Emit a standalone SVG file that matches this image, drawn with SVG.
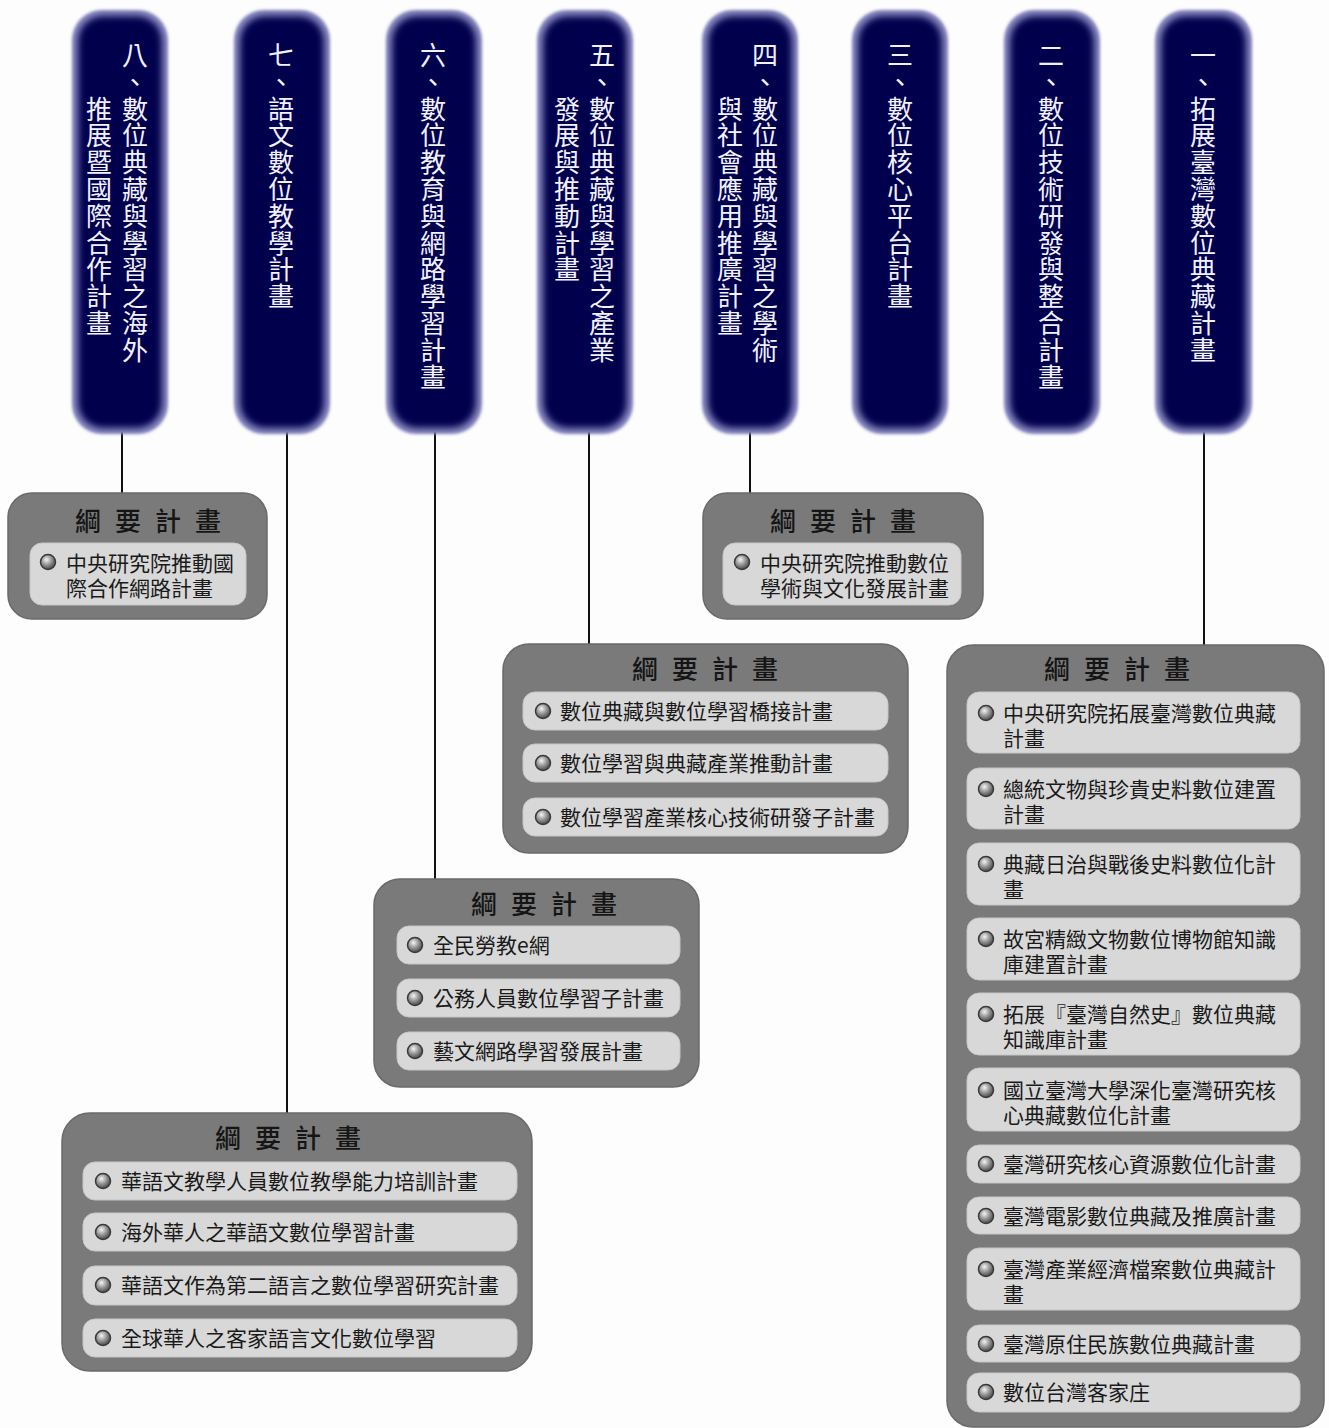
<svg xmlns="http://www.w3.org/2000/svg" width="1329" height="1428" viewBox="0 0 1329 1428">
<defs>
<style>
.po{fill:#8c8cc4;filter:url(#b2)}
.pi{fill:#02024e;filter:url(#b4)}
.pt{font-family:"Noto Sans CJK TC","Noto Sans CJK SC",sans-serif;font-size:26px;fill:#f2f2ff;text-anchor:middle;dominant-baseline:central}
.box{fill:#7a7a7a;stroke:#6a6a6a;stroke-width:1.5}
.item{fill:#d8d8d8;stroke:#c6c6c6;stroke-width:1}
.tt{font-family:"Noto Sans CJK TC","Noto Sans CJK SC",sans-serif;font-size:26px;font-weight:500;fill:#151515;text-anchor:middle;dominant-baseline:central}
.it{font-family:"Noto Sans CJK TC","Noto Sans CJK SC",sans-serif;font-size:21px;fill:#1a1a1a;dominant-baseline:central}
.bul{fill:url(#sph);stroke:#3a3a3a;stroke-width:1.5}
.conn{stroke:#111;stroke-width:2;fill:none}
</style>
<filter id="b2" x="-20%" y="-10%" width="140%" height="120%"><feGaussianBlur stdDeviation="1.5"/></filter>
<filter id="b4" x="-20%" y="-10%" width="140%" height="120%"><feGaussianBlur stdDeviation="3.5"/></filter>
<radialGradient id="sph" cx="40%" cy="35%" r="65%">
<stop offset="0" stop-color="#f4f4f4"/>
<stop offset="0.5" stop-color="#9a9a9a"/>
<stop offset="1" stop-color="#4a4a4a"/>
</radialGradient>
</defs>
<rect width="1329" height="1428" fill="#fdfdfd"/>

<g id="connectors">
<line class="conn" x1="122" y1="432" x2="122" y2="493"/>
<line class="conn" x1="287" y1="432" x2="287" y2="1113"/>
<line class="conn" x1="435" y1="432" x2="435" y2="879"/>
<line class="conn" x1="589" y1="432" x2="589" y2="644"/>
<line class="conn" x1="750" y1="432" x2="750" y2="493"/>
<line class="conn" x1="1204" y1="432" x2="1204" y2="645"/>
</g>

<g id="pillar8">
<rect class="po" x="72" y="10" width="96" height="424" rx="30"/>
<rect class="pi" x="78" y="16" width="84" height="412" rx="25"/>
<text class="pt"><tspan x="135" y="53">八</tspan><tspan x="135" y="80">、</tspan><tspan x="135" y="107">數</tspan><tspan x="135" y="133">位</tspan><tspan x="135" y="160">典</tspan><tspan x="135" y="187">藏</tspan><tspan x="135" y="214">與</tspan><tspan x="135" y="241">學</tspan><tspan x="135" y="267">習</tspan><tspan x="135" y="294">之</tspan><tspan x="135" y="321">海</tspan><tspan x="135" y="348">外</tspan></text>
<text class="pt"><tspan x="99" y="107">推</tspan><tspan x="99" y="133">展</tspan><tspan x="99" y="160">暨</tspan><tspan x="99" y="187">國</tspan><tspan x="99" y="214">際</tspan><tspan x="99" y="241">合</tspan><tspan x="99" y="267">作</tspan><tspan x="99" y="294">計</tspan><tspan x="99" y="321">畫</tspan></text>
</g>

<g id="pillar7">
<rect class="po" x="234" y="10" width="96" height="424" rx="30"/>
<rect class="pi" x="240" y="16" width="84" height="412" rx="25"/>
<text class="pt"><tspan x="281" y="53">七</tspan><tspan x="281" y="80">、</tspan><tspan x="281" y="107">語</tspan><tspan x="281" y="133">文</tspan><tspan x="281" y="160">數</tspan><tspan x="281" y="187">位</tspan><tspan x="281" y="214">教</tspan><tspan x="281" y="241">學</tspan><tspan x="281" y="267">計</tspan><tspan x="281" y="294">畫</tspan></text>
</g>

<g id="pillar6">
<rect class="po" x="386" y="10" width="96" height="424" rx="30"/>
<rect class="pi" x="392" y="16" width="84" height="412" rx="25"/>
<text class="pt"><tspan x="433" y="53">六</tspan><tspan x="433" y="80">、</tspan><tspan x="433" y="107">數</tspan><tspan x="433" y="133">位</tspan><tspan x="433" y="160">教</tspan><tspan x="433" y="187">育</tspan><tspan x="433" y="214">與</tspan><tspan x="433" y="241">網</tspan><tspan x="433" y="267">路</tspan><tspan x="433" y="294">學</tspan><tspan x="433" y="321">習</tspan><tspan x="433" y="348">計</tspan><tspan x="433" y="375">畫</tspan></text>
</g>

<g id="pillar5">
<rect class="po" x="537" y="10" width="96" height="424" rx="30"/>
<rect class="pi" x="543" y="16" width="84" height="412" rx="25"/>
<text class="pt"><tspan x="602" y="53">五</tspan><tspan x="602" y="80">、</tspan><tspan x="602" y="107">數</tspan><tspan x="602" y="133">位</tspan><tspan x="602" y="160">典</tspan><tspan x="602" y="187">藏</tspan><tspan x="602" y="214">與</tspan><tspan x="602" y="241">學</tspan><tspan x="602" y="267">習</tspan><tspan x="602" y="294">之</tspan><tspan x="602" y="321">產</tspan><tspan x="602" y="348">業</tspan></text>
<text class="pt"><tspan x="567" y="107">發</tspan><tspan x="567" y="133">展</tspan><tspan x="567" y="160">與</tspan><tspan x="567" y="187">推</tspan><tspan x="567" y="214">動</tspan><tspan x="567" y="241">計</tspan><tspan x="567" y="267">畫</tspan></text>
</g>

<g id="pillar4">
<rect class="po" x="702" y="10" width="96" height="424" rx="30"/>
<rect class="pi" x="708" y="16" width="84" height="412" rx="25"/>
<text class="pt"><tspan x="765" y="53">四</tspan><tspan x="765" y="80">、</tspan><tspan x="765" y="107">數</tspan><tspan x="765" y="133">位</tspan><tspan x="765" y="160">典</tspan><tspan x="765" y="187">藏</tspan><tspan x="765" y="214">與</tspan><tspan x="765" y="241">學</tspan><tspan x="765" y="267">習</tspan><tspan x="765" y="294">之</tspan><tspan x="765" y="321">學</tspan><tspan x="765" y="348">術</tspan></text>
<text class="pt"><tspan x="730" y="107">與</tspan><tspan x="730" y="133">社</tspan><tspan x="730" y="160">會</tspan><tspan x="730" y="187">應</tspan><tspan x="730" y="214">用</tspan><tspan x="730" y="241">推</tspan><tspan x="730" y="267">廣</tspan><tspan x="730" y="294">計</tspan><tspan x="730" y="321">畫</tspan></text>
</g>

<g id="pillar3">
<rect class="po" x="852" y="10" width="96" height="424" rx="30"/>
<rect class="pi" x="858" y="16" width="84" height="412" rx="25"/>
<text class="pt"><tspan x="900" y="53">三</tspan><tspan x="900" y="80">、</tspan><tspan x="900" y="107">數</tspan><tspan x="900" y="133">位</tspan><tspan x="900" y="160">核</tspan><tspan x="900" y="187">心</tspan><tspan x="900" y="214">平</tspan><tspan x="900" y="241">台</tspan><tspan x="900" y="267">計</tspan><tspan x="900" y="294">畫</tspan></text>
</g>

<g id="pillar2">
<rect class="po" x="1004" y="10" width="96" height="424" rx="30"/>
<rect class="pi" x="1010" y="16" width="84" height="412" rx="25"/>
<text class="pt"><tspan x="1051" y="53">二</tspan><tspan x="1051" y="80">、</tspan><tspan x="1051" y="107">數</tspan><tspan x="1051" y="133">位</tspan><tspan x="1051" y="160">技</tspan><tspan x="1051" y="187">術</tspan><tspan x="1051" y="214">研</tspan><tspan x="1051" y="241">發</tspan><tspan x="1051" y="267">與</tspan><tspan x="1051" y="294">整</tspan><tspan x="1051" y="321">合</tspan><tspan x="1051" y="348">計</tspan><tspan x="1051" y="375">畫</tspan></text>
</g>

<g id="pillar1">
<rect class="po" x="1155" y="10" width="97" height="424" rx="30"/>
<rect class="pi" x="1161" y="16" width="85" height="412" rx="25"/>
<text class="pt"><tspan x="1203" y="53">一</tspan><tspan x="1203" y="80">、</tspan><tspan x="1203" y="107">拓</tspan><tspan x="1203" y="133">展</tspan><tspan x="1203" y="160">臺</tspan><tspan x="1203" y="187">灣</tspan><tspan x="1203" y="214">數</tspan><tspan x="1203" y="241">位</tspan><tspan x="1203" y="267">典</tspan><tspan x="1203" y="294">藏</tspan><tspan x="1203" y="321">計</tspan><tspan x="1203" y="348">畫</tspan></text>
</g>

<g id="box8">
<rect class="box" x="8" y="493" width="259" height="126" rx="24"/>
<text class="tt"><tspan x="88" y="519">綱</tspan><tspan x="128" y="519">要</tspan><tspan x="168" y="519">計</tspan><tspan x="208" y="519">畫</tspan></text>
<rect class="item" x="30" y="543" width="216" height="62" rx="12"/>
<circle class="bul" cx="48" cy="562" r="7.5"/>
<text class="it"><tspan x="66" y="562">中央研究院推動國</tspan><tspan x="66" y="587">際合作網路計畫</tspan></text>
</g>

<g id="box4">
<rect class="box" x="703" y="493" width="280" height="126" rx="24"/>
<text class="tt"><tspan x="783" y="519">綱</tspan><tspan x="823" y="519">要</tspan><tspan x="863" y="519">計</tspan><tspan x="903" y="519">畫</tspan></text>
<rect class="item" x="723" y="543" width="238" height="62" rx="12"/>
<circle class="bul" cx="742" cy="562" r="7.5"/>
<text class="it"><tspan x="760" y="562">中央研究院推動數位</tspan><tspan x="760" y="587">學術與文化發展計畫</tspan></text>
</g>

<g id="box5">
<rect class="box" x="503" y="644" width="405" height="209" rx="26"/>
<text class="tt"><tspan x="645" y="667">綱</tspan><tspan x="685" y="667">要</tspan><tspan x="725" y="667">計</tspan><tspan x="765" y="667">畫</tspan></text>
<rect class="item" x="523" y="692" width="365" height="38" rx="12"/>
<circle class="bul" cx="543" cy="711" r="7.5"/>
<text class="it" x="560" y="710">數位典藏與數位學習橋接計畫</text>
<rect class="item" x="523" y="744" width="365" height="38" rx="12"/>
<circle class="bul" cx="543" cy="763" r="7.5"/>
<text class="it" x="560" y="762">數位學習與典藏產業推動計畫</text>
<rect class="item" x="523" y="798" width="365" height="38" rx="12"/>
<circle class="bul" cx="543" cy="817" r="7.5"/>
<text class="it" x="560" y="816">數位學習產業核心技術研發子計畫</text>
</g>

<g id="box6">
<rect class="box" x="374" y="879" width="325" height="208" rx="26"/>
<text class="tt"><tspan x="484" y="902">綱</tspan><tspan x="524" y="902">要</tspan><tspan x="564" y="902">計</tspan><tspan x="604" y="902">畫</tspan></text>
<rect class="item" x="397" y="926" width="283" height="38" rx="12"/>
<circle class="bul" cx="415" cy="945" r="7.5"/>
<text class="it" x="433" y="944">全民勞教e網</text>
<rect class="item" x="397" y="979" width="283" height="38" rx="12"/>
<circle class="bul" cx="415" cy="998" r="7.5"/>
<text class="it" x="433" y="997">公務人員數位學習子計畫</text>
<rect class="item" x="397" y="1032" width="283" height="38" rx="12"/>
<circle class="bul" cx="415" cy="1051" r="7.5"/>
<text class="it" x="433" y="1050">藝文網路學習發展計畫</text>
</g>

<g id="box7">
<rect class="box" x="62" y="1113" width="470" height="258" rx="28"/>
<text class="tt"><tspan x="228" y="1136">綱</tspan><tspan x="268" y="1136">要</tspan><tspan x="308" y="1136">計</tspan><tspan x="348" y="1136">畫</tspan></text>
<rect class="item" x="83" y="1162" width="434" height="38" rx="12"/>
<circle class="bul" cx="103" cy="1181" r="7.5"/>
<text class="it" x="121" y="1180">華語文教學人員數位教學能力培訓計畫</text>
<rect class="item" x="83" y="1213" width="434" height="38" rx="12"/>
<circle class="bul" cx="103" cy="1232" r="7.5"/>
<text class="it" x="121" y="1231">海外華人之華語文數位學習計畫</text>
<rect class="item" x="83" y="1266" width="434" height="39" rx="12"/>
<circle class="bul" cx="103" cy="1285" r="7.5"/>
<text class="it" x="121" y="1284">華語文作為第二語言之數位學習研究計畫</text>
<rect class="item" x="83" y="1319" width="434" height="38" rx="12"/>
<circle class="bul" cx="103" cy="1338" r="7.5"/>
<text class="it" x="121" y="1337">全球華人之客家語言文化數位學習</text>
</g>

<g id="box1">
<rect class="box" x="947" y="645" width="377" height="782" rx="26"/>
<text class="tt"><tspan x="1057" y="667">綱</tspan><tspan x="1097" y="667">要</tspan><tspan x="1137" y="667">計</tspan><tspan x="1177" y="667">畫</tspan></text>
<rect class="item" x="967" y="692" width="333" height="61" rx="12"/>
<circle class="bul" cx="986" cy="713" r="7.5"/>
<text class="it"><tspan x="1003" y="712">中央研究院拓展臺灣數位典藏</tspan><tspan x="1003" y="737">計畫</tspan></text>
<rect class="item" x="967" y="768" width="333" height="61" rx="12"/>
<circle class="bul" cx="986" cy="789" r="7.5"/>
<text class="it"><tspan x="1003" y="788">總統文物與珍貴史料數位建置</tspan><tspan x="1003" y="813">計畫</tspan></text>
<rect class="item" x="967" y="843" width="333" height="62" rx="12"/>
<circle class="bul" cx="986" cy="864" r="7.5"/>
<text class="it"><tspan x="1003" y="863">典藏日治與戰後史料數位化計</tspan><tspan x="1003" y="888">畫</tspan></text>
<rect class="item" x="967" y="918" width="333" height="62" rx="12"/>
<circle class="bul" cx="986" cy="939" r="7.5"/>
<text class="it"><tspan x="1003" y="938">故宮精緻文物數位博物館知識</tspan><tspan x="1003" y="963">庫建置計畫</tspan></text>
<rect class="item" x="967" y="993" width="333" height="62" rx="12"/>
<circle class="bul" cx="986" cy="1014" r="7.5"/>
<text class="it"><tspan x="1003" y="1013">拓展『臺灣自然史』數位典藏</tspan><tspan x="1003" y="1038">知識庫計畫</tspan></text>
<rect class="item" x="967" y="1068" width="333" height="63" rx="12"/>
<circle class="bul" cx="986" cy="1090" r="7.5"/>
<text class="it"><tspan x="1003" y="1089">國立臺灣大學深化臺灣研究核</tspan><tspan x="1003" y="1114">心典藏數位化計畫</tspan></text>
<rect class="item" x="967" y="1145" width="333" height="38" rx="12"/>
<circle class="bul" cx="986" cy="1164" r="7.5"/>
<text class="it" x="1003" y="1163">臺灣研究核心資源數位化計畫</text>
<rect class="item" x="967" y="1197" width="333" height="37" rx="12"/>
<circle class="bul" cx="986" cy="1216" r="7.5"/>
<text class="it" x="1003" y="1215">臺灣電影數位典藏及推廣計畫</text>
<rect class="item" x="967" y="1248" width="333" height="62" rx="12"/>
<circle class="bul" cx="986" cy="1269" r="7.5"/>
<text class="it"><tspan x="1003" y="1268">臺灣產業經濟檔案數位典藏計</tspan><tspan x="1003" y="1293">畫</tspan></text>
<rect class="item" x="967" y="1325" width="333" height="37" rx="12"/>
<circle class="bul" cx="986" cy="1344" r="7.5"/>
<text class="it" x="1003" y="1343">臺灣原住民族數位典藏計畫</text>
<rect class="item" x="967" y="1373" width="333" height="39" rx="12"/>
<circle class="bul" cx="986" cy="1392" r="7.5"/>
<text class="it" x="1003" y="1391">數位台灣客家庄</text>
</g>
</svg>
